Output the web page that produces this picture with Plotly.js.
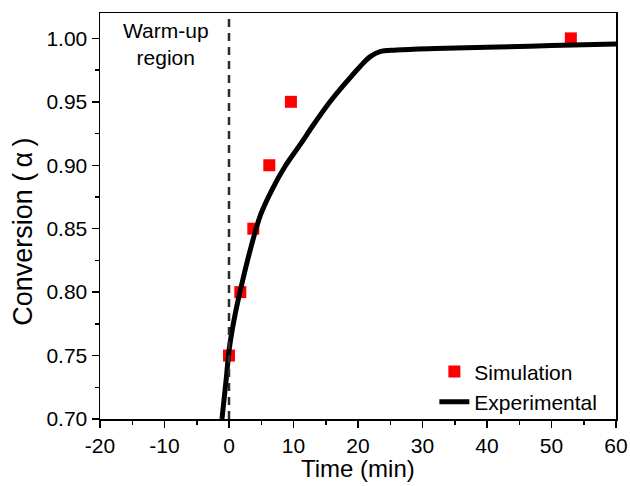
<!DOCTYPE html>
<html>
<head>
<meta charset="utf-8">
<script src="https://cdn.plot.ly/plotly-3.0.1.min.js"></script>
<style>
  html, body { margin: 0; padding: 0; background: #ffffff; }
  #chart { width: 630px; height: 486px; }
</style>
</head>
<body>
<div id="chart"></div>
<script>
// Simulation (red squares)
const simTime = [0, 1.75, 3.77, 6.25, 9.6, 53.0];
const simConv = [0.75, 0.80, 0.85, 0.90, 0.95, 1.00];

// Experimental (black curve)
const expTime = [-1.09, -0.47, 0.05, 0.93, 2.06, 3.36, 4.9, 6.8, 8.68, 11.0, 13.07, 15.66, 18.25, 20.3, 21.9, 23.4, 26.0, 32, 40, 50, 60];
const expConv = [0.700, 0.7295, 0.7557, 0.782, 0.808, 0.8345, 0.861, 0.882, 0.899, 0.916, 0.9317, 0.950, 0.9659, 0.9777, 0.9856, 0.9895, 0.9908, 0.992, 0.993, 0.9943, 0.9955];

// Warm-up boundary
const warmupTime = 0;

const xTickVals = [-20, -10, 0, 10, 20, 30, 40, 50, 60];
const xTickText = ['-20', '-10', '0', '10', '20', '30', '40', '50', '60'];
const yTickVals = [0.70, 0.75, 0.80, 0.85, 0.90, 0.95, 1.00];
const yTickText = ['0.70', '0.75', '0.80', '0.85', '0.90', '0.95', '1.00'];

const xTitle = 'Time (min)';
const yTitle = 'Conversion (\u2009α\u2009)';
const noteText = 'Warm-up<br>region';

const font = "Liberation Sans, Arial, sans-serif";

const traces = [
  {
    x: simTime, y: simConv, mode: 'markers', type: 'scatter', name: 'Simulation',
    marker: { symbol: 'square', size: 12, color: '#ff0000' }
  },
  {
    x: expTime, y: expConv, mode: 'lines', type: 'scatter', name: 'Experimental',
    line: { color: '#000000', width: 5, shape: 'spline', smoothing: 1 }
  }
];

const layout = {
  width: 630, height: 486,
  paper_bgcolor: '#ffffff', plot_bgcolor: '#ffffff',
  margin: { l: 100, r: 14, t: 13, b: 67 },
  font: { family: font, color: '#000000', size: 21 },
  showlegend: true,
  legend: {
    x: 0.648, y: -0.008, xanchor: 'left', yanchor: 'bottom',
    bgcolor: 'rgba(0,0,0,0)', borderwidth: 0,
    font: { family: font, size: 21, color: '#000000' },
    tracegroupgap: 0
  },
  xaxis: {
    range: [-20, 60], tickvals: xTickVals, ticktext: xTickText, ticks: 'outside', ticklen: 7, tickwidth: 1.5,
    tickcolor: '#000', showline: true, linecolor: '#000', linewidth: 1.5, mirror: true,
    showgrid: false, zeroline: false,
    tickfont: { family: font, size: 21 },
    minor: { dtick: 5, ticks: 'outside', ticklen: 4, tickwidth: 1.5, tickcolor: '#000', showgrid: false }
  },
  yaxis: {
    range: [0.70, 1.02], tickvals: yTickVals, ticktext: yTickText, ticks: 'outside', ticklen: 7, tickwidth: 1.5,
    tickcolor: '#000', showline: true, linecolor: '#000', linewidth: 1.5, mirror: true,
    showgrid: false, zeroline: false,
    tickfont: { family: font, size: 21 },
    minor: { dtick: 0.025, ticks: 'outside', ticklen: 4, tickwidth: 1.5, tickcolor: '#000', showgrid: false }
  },
  shapes: [
    {
      type: 'line', xref: 'x', yref: 'paper', x0: warmupTime, x1: warmupTime, y0: 0, y1: 1,
      line: { color: '#2a2a2a', width: 2.5, dash: '8px,6px' }
    }
  ],
  annotations: [
    {
      text: noteText, xref: 'paper', yref: 'paper', x: 0.127, y: 0.99,
      xanchor: 'center', yanchor: 'top', showarrow: false,
      font: { family: font, size: 21, color: '#000' }, align: 'center'
    },
    {
      text: xTitle, xref: 'paper', yref: 'paper', x: 0.5, y: -0.0862,
      xanchor: 'center', yanchor: 'top', showarrow: false, borderpad: 0,
      font: { family: font, size: 24, color: '#000' }
    },
    {
      text: yTitle, xref: 'paper', yref: 'paper', x: -0.148, y: 0.46,
      xanchor: 'center', yanchor: 'middle', showarrow: false, textangle: -90,
      font: { family: font, size: 27, color: '#000' }
    }
  ]
};

Plotly.newPlot('chart', traces, layout, { displayModeBar: false, staticPlot: true });
</script>
</body>
</html>
